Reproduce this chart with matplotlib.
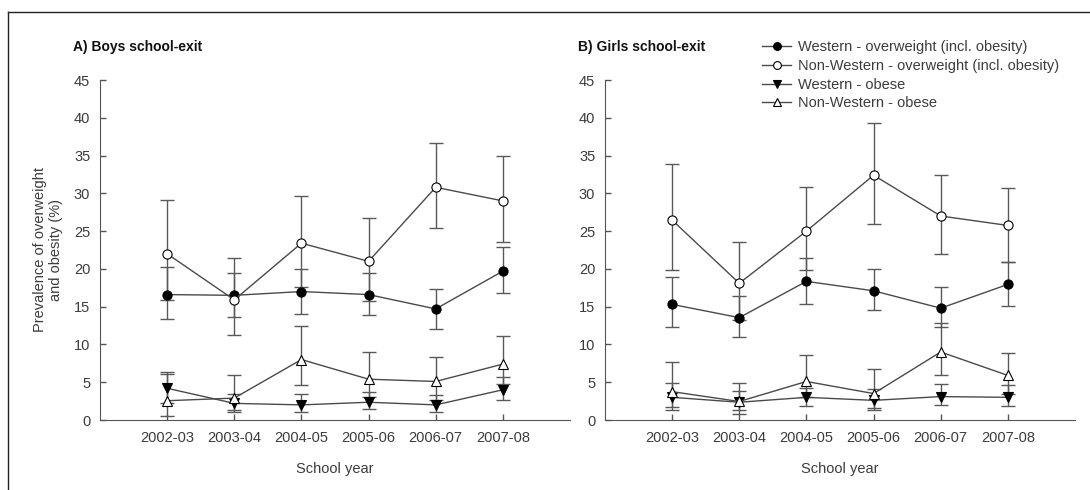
import matplotlib
matplotlib.use('Agg')
import matplotlib.pyplot as plt
from matplotlib.lines import Line2D
import numpy as np

plt.rcParams['font.family'] = ['Liberation Sans', 'DejaVu Sans']

years = ['2002-03', '2003-04', '2004-05', '2005-06', '2006-07', '2007-08']

# boys school-exit (%), with lower / upper confidence limits
boys_w_ow = [16.6, 16.5, 17.0, 16.6, 14.7, 19.7]
boys_w_ow_lo = [13.4, 13.6, 14.0, 13.9, 12.1, 16.8]
boys_w_ow_hi = [20.3, 19.4, 20.0, 19.5, 17.35, 22.9]
boys_nw_ow = [22.0, 15.9, 23.4, 21.0, 30.8, 29.0]
boys_nw_ow_lo = [15.9, 11.2, 17.65, 15.7, 25.4, 23.5]
boys_nw_ow_hi = [29.1, 21.4, 29.7, 26.7, 36.6, 34.9]
boys_w_ob = [4.2, 2.2, 2.0, 2.35, 2.0, 4.0]
boys_w_ob_lo = [2.3, 1.3, 1.1, 1.4, 1.0, 2.6]
boys_w_ob_hi = [6.35, 3.4, 3.5, 3.75, 3.3, 5.65]
boys_nw_ob = [2.55, 2.9, 8.0, 5.4, 5.1, 7.4]
boys_nw_ob_lo = [0.5, 1.0, 4.6, 3.0, 2.7, 4.8]
boys_nw_ob_hi = [6.05, 5.9, 12.5, 9.0, 8.3, 11.1]

# girls school-exit (%)
girls_w_ow = [15.3, 13.55, 18.35, 17.1, 14.8, 17.95]
girls_w_ow_lo = [12.3, 10.95, 15.4, 14.55, 12.35, 15.1]
girls_w_ow_hi = [18.9, 16.45, 21.5, 19.95, 17.6, 20.9]
girls_nw_ow = [26.45, 18.1, 25.0, 32.4, 27.0, 25.75]
girls_nw_ow_lo = [19.8, 13.3, 19.8, 26.0, 22.0, 20.9]
girls_nw_ow_hi = [33.9, 23.6, 30.8, 39.3, 32.4, 30.7]
girls_w_ob = [3.0, 2.35, 3.0, 2.6, 3.1, 3.0]
girls_w_ob_lo = [1.7, 1.3, 1.85, 1.55, 2.0, 1.85]
girls_w_ob_hi = [4.9, 3.85, 4.2, 4.05, 4.7, 4.6]
girls_nw_ob = [3.75, 2.45, 5.1, 3.5, 9.0, 5.9]
girls_nw_ob_lo = [1.3, 0.75, 3.0, 1.3, 6.0, 3.5]
girls_nw_ob_hi = [7.7, 4.85, 8.6, 6.75, 12.8, 8.9]

labels = ['Western - overweight (incl. obesity)',
          'Non-Western - overweight (incl. obesity)',
          'Western - obese',
          'Non-Western - obese']
styles = [('o', 'black'), ('o', 'white'), ('v', 'black'), ('^', 'white')]

boys = [(boys_w_ow, boys_w_ow_lo, boys_w_ow_hi),
        (boys_nw_ow, boys_nw_ow_lo, boys_nw_ow_hi),
        (boys_w_ob, boys_w_ob_lo, boys_w_ob_hi),
        (boys_nw_ob, boys_nw_ob_lo, boys_nw_ob_hi)]
girls = [(girls_w_ow, girls_w_ow_lo, girls_w_ow_hi),
         (girls_nw_ow, girls_nw_ow_lo, girls_nw_ow_hi),
         (girls_w_ob, girls_w_ob_lo, girls_w_ob_hi),
         (girls_nw_ob, girls_nw_ob_lo, girls_nw_ob_hi)]

W, H = 1090, 490
fig = plt.figure(figsize=(W / 100, H / 100), dpi=100)
ax1 = fig.add_axes([100 / W, 70 / H, 470 / W, 340 / H])
ax2 = fig.add_axes([605 / W, 70 / H, 470 / W, 340 / H])

txt = '#3c3c3c'
x = np.arange(len(years))

for ax, data in [(ax1, boys), (ax2, girls)]:
    for (vals, lo, hi), (m, fc), lab in zip(data, styles, labels):
        vals = np.array(vals)
        err = [vals - np.array(lo), np.array(hi) - vals]
        ax.errorbar(x, vals, yerr=err, fmt='none', ecolor='#595959',
                    elinewidth=1, capsize=5, capthick=1, zorder=2)
        ax.plot(x, vals, '-', color='#4a4a4a', lw=1, marker=m, ms=6.6,
                mfc=fc, mec='black', mew=0.8, label=lab, zorder=3)
    ax.set_xlim(-1, 6)
    ax.set_ylim(0, 45)
    ax.set_xticks(x)
    ax.set_xticklabels(years)
    ax.set_yticks(range(0, 50, 5))
    ax.tick_params(direction='in', length=4, width=1, colors='#555555',
                   labelcolor=txt, labelsize=10.5)
    ax.tick_params(axis='y', pad=7)
    ax.tick_params(axis='x', pad=8)
    for s in ['top', 'right']:
        ax.spines[s].set_visible(False)
    for s in ['left', 'bottom']:
        ax.spines[s].set_color('#555555')
    ax.set_xlabel('School year', fontsize=10.5, color=txt, labelpad=12)

ax1.set_ylabel('Prevalence of overweight\nand obesity (%)', fontsize=10.5,
               color=txt, labelpad=8)

fig.text(73 / W, 1 - 47 / H, 'A) Boys school-exit', fontsize=10,
         fontweight='bold', va='center', ha='left', color='#111111')
fig.text(578 / W, 1 - 47 / H, 'B) Girls school-exit', fontsize=10,
         fontweight='bold', va='center', ha='left', color='#111111')

handles, labs = ax2.get_legend_handles_labels()
fig.legend(handles, labs, loc='upper left', bbox_to_anchor=(762 / W, 1 - 40 / H),
           frameon=False, fontsize=10.5, handlelength=2.0, handletextpad=0.5,
           labelspacing=0.33, borderpad=0, borderaxespad=0, labelcolor=txt,
           markerscale=0.85)

# frame around the figure (left and top edges visible)
fig.add_artist(Line2D([8 / W, 8 / W], [0, 1 - 12 / H], transform=fig.transFigure,
                      color='#222222', lw=1))
fig.add_artist(Line2D([8 / W, 1], [1 - 12 / H, 1 - 12 / H], transform=fig.transFigure,
                      color='#222222', lw=1))

fig.savefig('out.png', dpi=100)
